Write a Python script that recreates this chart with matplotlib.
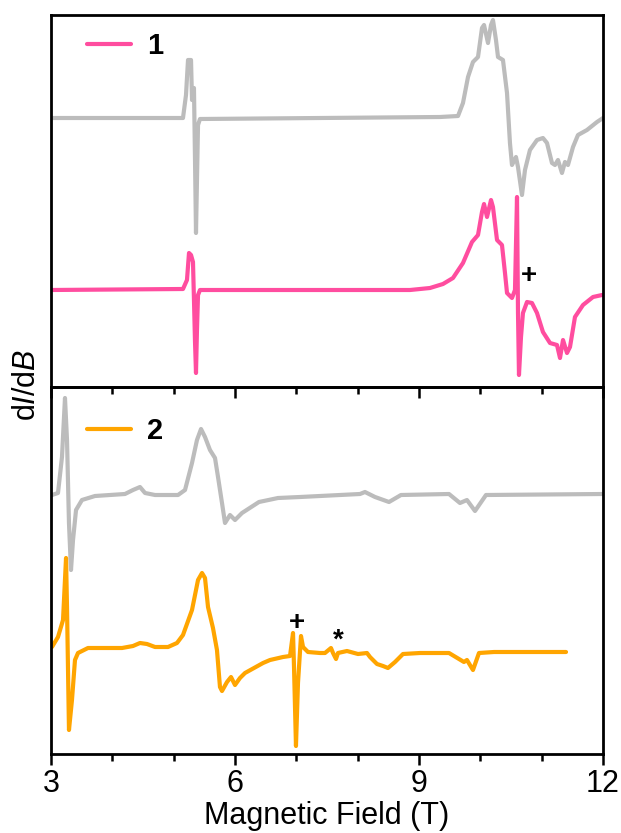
import numpy as np
import matplotlib
matplotlib.use('Agg')
import matplotlib.pyplot as plt
from matplotlib.ticker import MultipleLocator

plt.rcParams['font.family'] = ['Liberation Sans', 'DejaVu Sans']
plt.rcParams['mathtext.fontset'] = 'custom'
plt.rcParams['mathtext.rm'] = 'Liberation Sans'
plt.rcParams['mathtext.it'] = 'Liberation Sans:italic'

##### DATA #####

# sample 1 - simulation (grey)
field_1_sim = [3.0, 5.152, 5.201, 5.234, 5.283, 5.299, 5.331, 5.348, 5.364, 5.397, 5.429,
               9.342, 9.636, 9.717, 9.799, 9.880, 9.962, 10.027, 10.060, 10.125, 10.174,
               10.206, 10.255, 10.288, 10.369, 10.435, 10.483, 10.516, 10.581, 10.614,
               10.679, 10.728, 10.809, 10.924, 11.021, 11.087, 11.168, 11.217, 11.266,
               11.331, 11.380, 11.429, 11.511, 11.592, 11.739, 11.902, 12.0]
signal_1_sim = [0.0, 0.0, 0.23, 0.58, 0.58, 0.18, 0.30, -0.42, -1.15, -0.07, -0.01,
                0.01, 0.02, 0.15, 0.41, 0.56, 0.61, 0.90, 0.93, 0.75, 0.93,
                0.98, 0.78, 0.61, 0.58, 0.25, -0.25, -0.47, -0.39, -0.49,
                -0.77, -0.52, -0.32, -0.22, -0.20, -0.25, -0.45, -0.47, -0.42,
                -0.55, -0.44, -0.47, -0.29, -0.17, -0.12, -0.04, 0.0]

# sample 1 - experiment (pink)
field_1_exp = [3.0, 5.152, 5.217, 5.250, 5.283, 5.315, 5.331, 5.348, 5.364, 5.380, 5.397,
               5.429, 8.853, 9.179, 9.391, 9.554, 9.717, 9.864, 9.962, 10.027, 10.060,
               10.109, 10.174, 10.206, 10.272, 10.353, 10.402, 10.435, 10.516, 10.565,
               10.598, 10.614, 10.630, 10.663, 10.695, 10.761, 10.842, 10.924, 11.021,
               11.136, 11.250, 11.299, 11.348, 11.413, 11.462, 11.543, 11.674, 11.837, 11.984]
signal_1_exp = [0.0, 0.01, 0.10, 0.37, 0.35, 0.28, -0.10, -0.52, -0.83, -0.40, -0.05,
                0.0, 0.0, 0.02, 0.06, 0.12, 0.27, 0.48, 0.55, 0.78, 0.86,
                0.73, 0.90, 0.83, 0.50, 0.45, 0.17, -0.03, -0.08, 0.0,
                0.93, -0.23, -0.85, -0.47, -0.23, -0.12, -0.13, -0.23, -0.42,
                -0.53, -0.55, -0.68, -0.50, -0.63, -0.57, -0.27, -0.15, -0.07, -0.05]

# sample 2 - simulation (grey)
field_2_sim = [3.016, 3.114, 3.179, 3.228, 3.261, 3.293, 3.326, 3.359, 3.408, 3.505, 3.717,
               4.206, 4.337, 4.451, 4.533, 4.696, 5.071, 5.185, 5.299, 5.380, 5.446,
               5.511, 5.592, 5.674, 5.723, 5.788, 5.837, 5.918, 6.000, 6.114, 6.391,
               6.701, 7.060, 8.038, 8.119, 8.283, 8.511, 8.706, 9.489, 9.668, 9.782,
               9.913, 10.092, 12.0]
signal_2_sim = [-0.01, 0.01, 0.37, 0.96, 0.54, -0.29, -0.76, -0.46, -0.16, -0.06, -0.02,
                0.0, 0.04, 0.07, 0.01, -0.01, -0.01, 0.04, 0.31, 0.54, 0.65,
                0.57, 0.44, 0.36, 0.17, -0.09, -0.29, -0.21, -0.26, -0.19, -0.08,
                -0.04, -0.03, 0.0, 0.02, -0.03, -0.08, -0.01, 0.0, -0.09, -0.06,
                -0.17, -0.01, 0.0]

# sample 2 - experiment (orange)
field_2_exp = [3.016, 3.114, 3.196, 3.245, 3.261, 3.293, 3.342, 3.391, 3.440, 3.603,
               4.158, 4.337, 4.451, 4.565, 4.696, 4.908, 5.054, 5.152, 5.299, 5.397,
               5.462, 5.511, 5.560, 5.641, 5.706, 5.755, 5.788, 5.870, 5.935, 6.000,
               6.081, 6.163, 6.457, 6.571, 6.783, 6.897, 6.946, 6.962, 6.994, 7.027,
               7.076, 7.109, 7.190, 7.386, 7.467, 7.565, 7.598, 7.647, 7.679, 7.826,
               8.005, 8.152, 8.201, 8.315, 8.413, 8.494, 8.609, 8.739, 9.016, 9.489,
               9.733, 9.782, 9.880, 9.978, 10.223, 11.397]
signal_2_exp = [0.03, 0.13, 0.30, 0.92, 0.43, -0.80, -0.50, -0.10, -0.03, 0.02,
                0.02, 0.04, 0.07, 0.06, 0.03, 0.03, 0.07, 0.15, 0.40, 0.70,
                0.77, 0.72, 0.43, 0.22, 0.00, -0.37, -0.41, -0.32, -0.27, -0.35,
                -0.28, -0.23, -0.13, -0.10, -0.07, -0.06, 0.17, -0.17, -0.96, -0.33,
                0.14, 0.03, -0.02, -0.03, -0.03, 0.02, -0.03, -0.09, -0.03, -0.01,
                -0.04, -0.03, -0.07, -0.14, -0.16, -0.18, -0.12, -0.04, -0.03, -0.03,
                -0.12, -0.10, -0.20, -0.03, -0.02, -0.02]

# vertical stacking offsets
offset_1_sim, offset_1_exp = 2.69, 0.97
offset_2_sim, offset_2_exp = 2.60, 1.04

grey = '#bcbcbc'
pink = '#ff4d9f'
orange = '#ffa500'
lw = 3.0

##### PLOTTING #####

fig = plt.figure(figsize=(6.21, 8.33), dpi=100)
ax1 = fig.add_axes([51/621, 1 - 387/833, 552/621, 372/833])
ax2 = fig.add_axes([51/621, 1 - 754/833, 552/621, 367/833])
ax2.patch.set_visible(False)

style = dict(lw=lw, solid_joinstyle='round', solid_capstyle='round')
ax1.plot(field_1_sim, np.array(signal_1_sim) + offset_1_sim, color=grey, **style)
ax1.plot(field_1_exp, np.array(signal_1_exp) + offset_1_exp, color=pink, label='1', **style)
ax1.text(10.79, 1.11, '+', fontsize=20, fontweight='bold', ha='center', va='center')

ax2.plot(field_2_sim, np.array(signal_2_sim) + offset_2_sim, color=grey, **style)
ax2.plot(field_2_exp, np.array(signal_2_exp) + offset_2_exp, color=orange, label='2', **style)
ax2.text(7.01, 1.31, '+', fontsize=20, fontweight='bold', ha='center', va='center')
ax2.text(7.68, 1.13, '*', fontsize=20, fontweight='bold', ha='center', va='center')

ax1.set_ylim(0, 3.72)
ax2.set_ylim(0, 3.67)

for ax in (ax1, ax2):
    ax.set_xlim(3, 12)
    ax.set_yticks([])
    ax.xaxis.set_major_locator(MultipleLocator(3))
    ax.xaxis.set_minor_locator(MultipleLocator(1))
    ax.tick_params(axis='x', which='major', direction='out', length=8, width=1.8)
    ax.tick_params(axis='x', which='minor', direction='out', length=5, width=1.8)
    for s in ax.spines.values():
        s.set_linewidth(2.0)

ax1.tick_params(axis='x', labelbottom=False)
ax2.tick_params(axis='x', labelsize=22, pad=3)
ax2.set_xlabel('Magnetic Field (T)', fontsize=22, labelpad=1)

for ax, loc in ((ax1, 0.917), (ax2, 0.880)):
    ax.legend(loc='center left', bbox_to_anchor=(0.066, loc), frameon=False,
              handlelength=1.5, handletextpad=0.55, borderpad=0, borderaxespad=0,
              prop={'size': 21, 'weight': 'bold'})

fig.text(27/621, 1 - 385/833, r'd$\mathit{I}$/d$\mathit{B}$', fontsize=22,
         rotation=90, ha='center', va='center')

fig.savefig('out.png', dpi=100)
